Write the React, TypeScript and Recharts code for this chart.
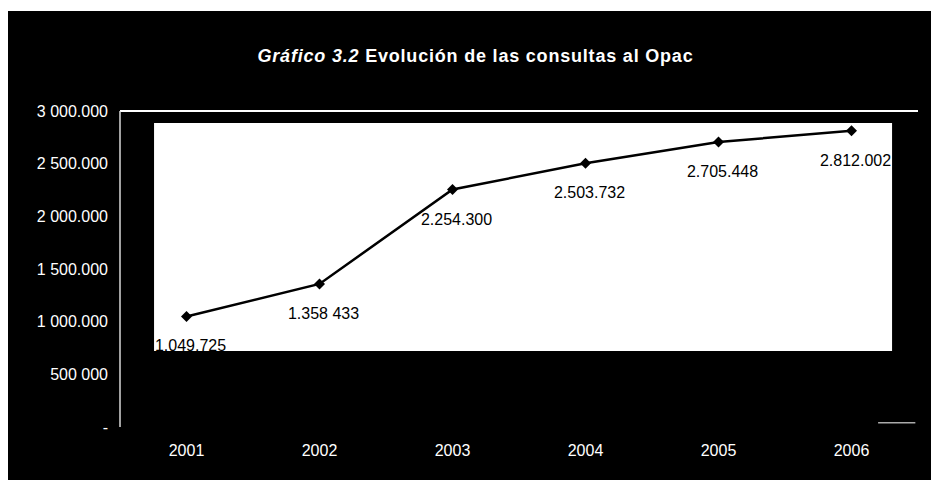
import {
  LabelList,
  Line,
  LineChart,
  ReferenceArea,
  ReferenceLine,
  XAxis,
  YAxis,
} from "recharts";

const years = ["2001", "2002", "2003", "2004", "2005", "2006"];
const consultas = [1049725, 1358433, 2254300, 2503732, 2705448, 2812002];
const consultasLabels = [
  "1.049.725",
  "1.358 433",
  "2.254.300",
  "2.503.732",
  "2.705.448",
  "2.812.002",
];

const yTicks = [0, 500000, 1000000, 1500000, 2000000, 2500000, 3000000];
const yTickLabels = [
  "-",
  "500 000",
  "1 000.000",
  "1 500.000",
  "2 000.000",
  "2 500.000",
  "3 000.000",
];

const data = years.map((year, i) => ({
  idx: i,
  year,
  consultas: consultas[i],
  label: consultasLabels[i],
}));
const xTicks = years.map((_, i) => i);

const FONT = "'Liberation Sans', Arial, sans-serif";

// diamond marker
const Diamond = (props: any) => {
  const { cx, cy, index } = props;
  if (cx == null || cy == null) return null;
  const r = 5.5;
  return (
    <polygon
      key={`d-${index}`}
      points={`${cx},${cy - r} ${cx + r},${cy} ${cx},${cy + r} ${cx - r},${cy}`}
      fill="#000"
    />
  );
};

const ValueLabel = (props: any) => {
  const { x, y, value } = props;
  return (
    <text
      x={x + 4}
      y={y + 35}
      textAnchor="middle"
      fontSize={16}
      fontFamily={FONT}
      fill="#000"
    >
      {value}
    </text>
  );
};

export default function App() {
  return (
    <div
      style={{
        position: "absolute",
        left: 0,
        top: 0,
        width: 931,
        height: 480,
        background: "#fff",
      }}
    >
      <div
        style={{
          position: "absolute",
          left: 8,
          top: 11,
          width: 923,
          height: 469,
          background: "#000",
        }}
      >
        <div
          style={{
            position: "absolute",
            left: 6,
            top: 35,
            width: 923,
            textAlign: "center",
            color: "#fff",
            fontFamily: FONT,
            fontWeight: "bold",
            fontSize: 18,
            letterSpacing: 0.8,
          }}
        >
          <i>Gráfico 3.2</i> Evolución de las consultas al Opac
        </div>
        <LineChart
          width={923}
          height={469}
          data={data}
          margin={{ top: 100, right: 13, left: 0, bottom: 0 }}
          style={{ position: "absolute", left: 0, top: 0 }}
        >
          <XAxis
            dataKey="idx"
            type="number"
            domain={[-0.5, 5.5]}
            ticks={xTicks}
            interval={0}
            tickFormatter={(v: number) => years[v]}
            axisLine={false}
            tickLine={false}
            tickMargin={12}
            height={53}
            tick={{ fill: "#fff", fontSize: 16, fontFamily: FONT }}
          />
          <YAxis
            width={112}
            domain={[0, 3000000]}
            ticks={yTicks}
            interval={0}
            tickFormatter={(v: number) => yTickLabels[yTicks.indexOf(v)]}
            axisLine={{ stroke: "#d8d8d8", strokeWidth: 1.5 }}
            tickLine={false}
            tickMargin={6}
            tick={{ fill: "#fff", fontSize: 16, fontFamily: FONT }}
          />
          <ReferenceArea
            x1={-0.244}
            x2={5.305}
            y1={722000}
            y2={2887000}
            fill="#fff"
            fillOpacity={1}
            stroke="none"
          />
          <ReferenceLine y={3000000} stroke="#fff" strokeWidth={2} />
          <ReferenceLine
            segment={[
              { x: 5.2, y: 40000 },
              { x: 5.48, y: 40000 },
            ]}
            stroke="#aaa"
            strokeWidth={1.5}
          />
          <Line
            dataKey="consultas"
            stroke="#000"
            strokeWidth={2.5}
            dot={Diamond}
            activeDot={false}
            isAnimationActive={false}
          >
            <LabelList dataKey="label" content={ValueLabel} />
          </Line>
        </LineChart>
      </div>
    </div>
  );
}
